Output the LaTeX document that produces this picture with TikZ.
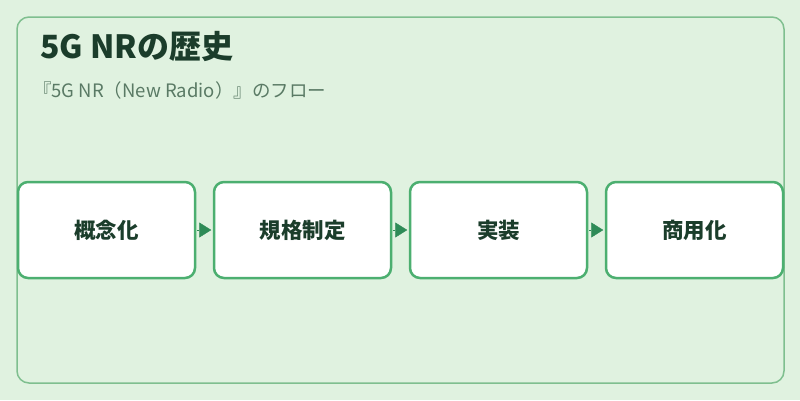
\documentclass[tikz,border=0pt]{standalone}
\usepackage{fontspec}
\setmainfont{Noto Sans CJK JP}
\usetikzlibrary{positioning, arrows.meta}

\definecolor{bgcol}{HTML}{E0F2E0}
\definecolor{framecol}{HTML}{7FBF8F}
\definecolor{boxcol}{HTML}{4CAF70}
\definecolor{arrowcol}{HTML}{2E8B57}
\definecolor{titlecol}{HTML}{1B3D2B}
\definecolor{subcol}{HTML}{5A7A65}

\tikzset{
  stage/.style={draw=boxcol, fill=white, line width=2.5pt, rounded corners=10pt,
    minimum width=177pt, minimum height=96pt, text=titlecol,
    font=\fontsize{21.5}{26}\selectfont\bfseries},
  flowarrow/.style={arrowcol, line width=0.4pt, shorten <=1pt, shorten >=1.5pt,
    -{Triangle[length=12pt, width=15pt]}}
}

\begin{document}
\begin{tikzpicture}[x=1pt, y=-1pt]
      \fill[bgcol] (0,0) rectangle (800,400);
      \useasboundingbox (0,0) rectangle (800,400);
      \draw[framecol, line width=1.5pt, rounded corners=12pt] (17,17) rectangle (784,383);
      \node[anchor=base west, inner sep=0, text=titlecol,
        font=\fontsize{32}{38}\selectfont\bfseries] (title) at (40,58) {5G NRの歴史};
      \node[anchor=base west, inner sep=0, text=subcol,
        font=\fontsize{18.5}{22}\selectfont] (subtitle) at (33,97) {『5G NR（New Radio）』のフロー};
      \node[stage] (concept) at (106.5,230) {概念化};
      \node[stage, right=16.5pt of concept] (spec) {規格制定};
      \node[stage, right=16.5pt of spec] (impl) {実装};
      \node[stage, right=16.5pt of impl] (commercial) {商用化};
      \draw[flowarrow] (concept) -- (spec);
      \draw[flowarrow] (spec) -- (impl);
      \draw[flowarrow] (impl) -- (commercial);
    \end{tikzpicture}
\end{document}
